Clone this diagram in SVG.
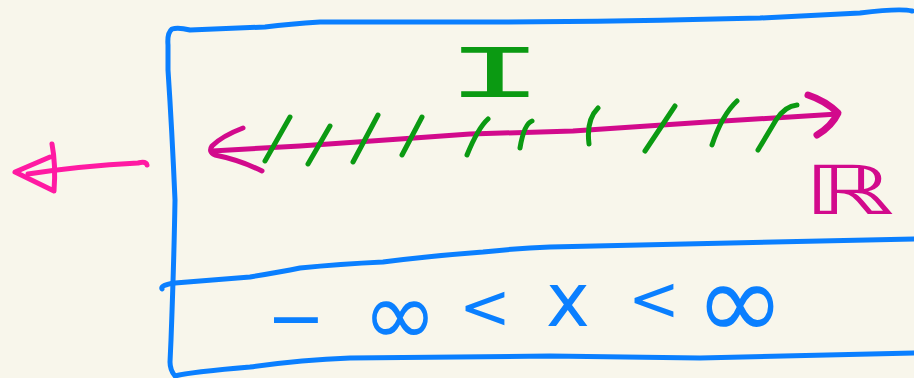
<svg xmlns="http://www.w3.org/2000/svg" width="914" height="378" viewBox="0 0 914 378">
<style>
.s{fill:none;stroke-linecap:round;stroke-linejoin:round}
.blue{stroke:#0a7fff;stroke-width:5}
.mag{stroke:#d20a8c;stroke-width:5}
.pink{stroke:#ff1aa3;stroke-width:5}
.green{stroke:#0b9a12;stroke-width:5}
.btxt{fill:#0a7fff;font-family:"DejaVu Sans",sans-serif}
</style>
<rect width="914" height="378" fill="#f8f6eb"/>
<g id="box">
<path class="s blue" d="M912,11 Q900,8 860,13 L760,18 Q600,22 470,22 L320,22 Q290,24 265,27 L190,30 Q178,27 172,29 Q167,33 168,45 L168,70 Q172,130 175,200 Q174,260 171,340 L170,362 Q170,370 175,376 Q190,372 250,367 Q300,360 350,358 L550,356 L700,358 L914,353"/>
<path class="s blue" d="M162,289 Q160,285 175,283 L250,277 Q280,272 300,268 Q340,264 383,262 Q430,256 483,252 Q520,248 550,247 L914,239"/>
</g>
<g id="outer-arrow">
<path class="s pink" d="M147,165 Q146,161 138,163 Q80,166 28,174"/>
<path class="s pink" d="M52,144 Q56,165 54,191 L15,172 L50,157"/>
</g>
<g id="real-line">
<path class="s mag" d="M212,151 L300,146 L400,139 Q440,136 470,134 L573,131 L707,122 L838,114"/>
<path class="s mag" d="M243,128 Q222,136 212,146 Q208,152 215,155 Q240,160 262,171"/>
<path class="s mag" style="stroke-width:7" d="M808,95 Q826,101 838,113 Q832,126 817,135"/>
</g>
<g id="interval-hatches">
<path class="s green" d="M290,117 L265,161 M330,126 L308,164 M378,115 L353,162 M422,117 L402,155 M488,119 Q478,128 467,155 M532,121 Q524,124 520,148 M598,108 Q586,120 589,144 M675,106 L645,151 M737,101 Q722,115 712,145 M797,105 Q785,106 776,120 L758,150"/>
</g>
<g id="label-I">
<text x="0" y="0" transform="translate(495,97) scale(2.2,1)" text-anchor="middle" font-family="Liberation Mono,monospace" font-size="76" fill="#0b9a12">I</text>
</g>
<g id="label-R">
<text x="0" y="0" transform="translate(803,214) scale(1.7,1)" font-family="DejaVu Sans,sans-serif" font-size="68" fill="#d20a8c">ℝ</text>
</g>
<g id="inequality">
<text class="btxt" text-anchor="middle"><tspan x="296" y="342" font-size="70">−</tspan><tspan x="400" y="345" font-size="90">∞</tspan><tspan x="485" y="328" font-size="62">&lt;</tspan><tspan x="568" y="326" font-size="74">x</tspan><tspan x="654" y="320" font-size="62">&lt;</tspan><tspan x="740" y="339" font-size="108">∞</tspan></text>
</g>
</svg>
